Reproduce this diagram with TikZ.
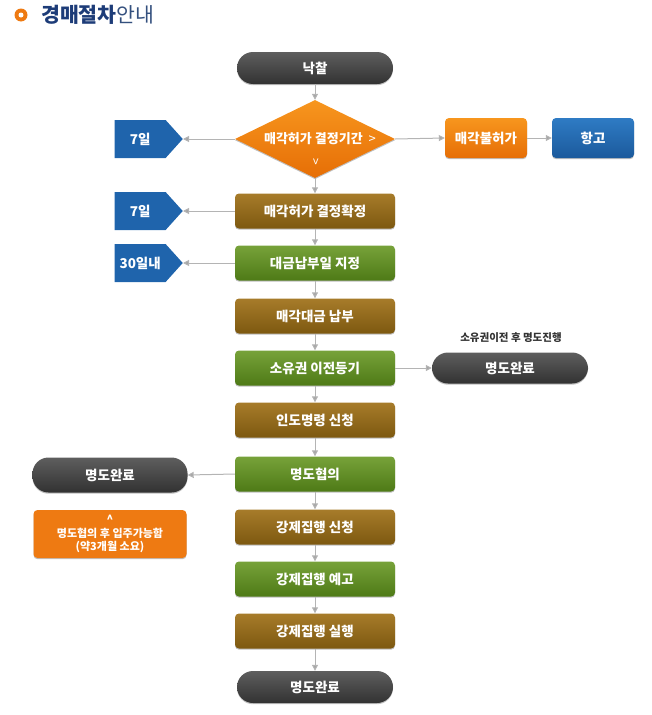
\documentclass[tikz,border=0pt]{standalone}
\usepackage{fontspec}
\setmainfont{Noto Sans CJK KR}
\usetikzlibrary{arrows.meta, shapes.geometric, shapes.symbols, shadows}
\definecolor{mNavy}{HTML}{1D3C78}
\definecolor{mNavyL}{HTML}{34507E}
\definecolor{mOrange}{HTML}{EE7A12}
\definecolor{mOrangeT}{HTML}{F7961E}
\definecolor{mOrangeB}{HTML}{E66E06}
\definecolor{mBrownT}{HTML}{A77C2A}
\definecolor{mBrownB}{HTML}{7D5810}
\definecolor{mGreenT}{HTML}{77A23A}
\definecolor{mGreenB}{HTML}{4E7A16}
\definecolor{mBlueT}{HTML}{2F7BC4}
\definecolor{mBlueB}{HTML}{1B5A9C}
\definecolor{mSig}{HTML}{1F64AC}
\definecolor{mDarkT}{HTML}{5E5E5E}
\definecolor{mDarkB}{HTML}{323232}
\definecolor{mLine}{HTML}{B4B4B4}

\tikzset{
  shade/.style={drop shadow={shadow xshift=0pt, shadow yshift=-1.2pt, opacity=0.25, fill=black}},
  txt/.style={text=white, font=\bfseries\fontsize{13.5}{15}\selectfont, inner sep=0pt},
  flow/.style={txt, shade, rounded corners=4pt, minimum width=160pt, minimum height=35pt},
  brownbox/.style={flow, top color=mBrownT, bottom color=mBrownB},
  greenbox/.style={flow, top color=mGreenT, bottom color=mGreenB},
  pill/.style={txt, shade, rounded corners=16pt, minimum width=156pt, minimum height=32pt,
    top color=mDarkT, bottom color=mDarkB},
  sidebox/.style={txt, shade, rounded corners=4pt, minimum width=82pt, minimum height=40pt},
  decide/.style={diamond, shade, inner sep=0pt, minimum width=160pt, minimum height=78pt,
    top color=mOrangeT, bottom color=mOrangeB},
  daysig/.style={signal, signal to=east, signal pointer angle=96, txt, fill=mSig,
    minimum width=68pt, minimum height=38pt, anchor=east},
  conn/.style={draw=mLine, line width=1pt, -{Triangle[length=6pt, width=6pt, fill=black!35]}}
}

\begin{document}
\begin{tikzpicture}[x=1pt, y=-1pt]
  \useasboundingbox (0,0) rectangle (652,715);
  % title
  \fill[mOrange] (21,15) circle (6.5pt);
  \fill[white] (21,15) circle (2.5pt);
  \node[anchor=west, inner sep=0pt, font=\fontsize{20.5}{22}\selectfont] (title) at (41,15)
    {\textcolor{mNavy}{\bfseries 경매절차}\textcolor{mNavyL}{안내}};

  % main column
  \node[pill] (nakchal) at (315,68) {낙찰};
  \node[decide] (heoga) at (315,139) {};
  \node[txt, font=\bfseries\fontsize{13}{15}\selectfont] (heogaTxt) at (320,139)
    {매각허가 결정기간\hspace{6pt}{\mdseries >}};
  \node[txt, rotate=-90, font=\mdseries\fontsize{12}{12}\selectfont] (heogaDown) at (315,162) {>};
  \node[brownbox] (hwakjeong) at (315,211) {매각허가 결정확정};
  \node[greenbox] (napbuil) at (315,263) {대금납부일 지정};
  \node[brownbox] (napbu) at (315,316) {매각대금 납부};
  \node[greenbox] (deunggi) at (315,368) {소유권 이전등기};
  \node[brownbox] (indo) at (315,420) {인도명령 신청};
  \node[greenbox] (hyeopui) at (315,474) {명도협의};
  \node[brownbox] (sincheong) at (315,527) {강제집행 신청};
  \node[greenbox] (yego) at (315,579) {강제집행 예고};
  \node[brownbox] (silhaeng) at (315,631) {강제집행 실행};
  \node[pill] (wanryo) at (315,687) {명도완료};

  % right side
  \node[sidebox, top color=mOrangeT, bottom color=mOrangeB] (bulheoga) at (486,138) {매각불허가};
  \node[sidebox, top color=mBlueT, bottom color=mBlueB] (hanggo) at (593,138) {항고};
  \node[pill, minimum height=31pt] (myeongdoR) at (510,368) {명도완료};
  \node[text=black!80, font=\bfseries\fontsize{10.5}{12}\selectfont] (myeongdoRLbl) at (511,338)
    {소유권이전 후 명도진행};

  % left side
  \node[daysig] (day1) at (183,139) {7일};
  \node[daysig] (day2) at (183,211) {7일};
  \node[daysig] (day3) at (183,263) {30일내};
  \node[pill, minimum width=155pt, minimum height=35pt] (myeongdoL) at (110,475) {명도완료};
  \node[txt, shade, rounded corners=4pt, fill=mOrange, minimum width=153pt, minimum height=48pt,
    align=center, font=\bfseries\fontsize{11}{13.5}\selectfont] (note) at (110,534)
    {\textasciicircum\\명도협의 후 입주가능함\\(약3개월 소요)};

  % connectors
  \draw[conn] (nakchal) -- (heoga);
  \draw[conn] (heoga) -- (hwakjeong);
  \foreach \a/\b in {hwakjeong/napbuil, napbuil/napbu, napbu/deunggi, deunggi/indo,
      indo/hyeopui, hyeopui/sincheong, sincheong/yego, yego/silhaeng, silhaeng/wanryo}
    \draw[conn] (\a) -- (\b);
  \draw[conn] (heoga.west) -- (day1.east);
  \draw[conn] (heoga.east) -- (bulheoga.west);
  \draw[conn] (bulheoga) -- (hanggo);
  \draw[conn] (hwakjeong.west) -- (day2.east);
  \draw[conn] (napbuil.west) -- (day3.east);
  \draw[conn] (deunggi.east) -- (myeongdoR.west);
  \draw[conn] (hyeopui.west) -- (myeongdoL.east);
\end{tikzpicture}
\end{document}
